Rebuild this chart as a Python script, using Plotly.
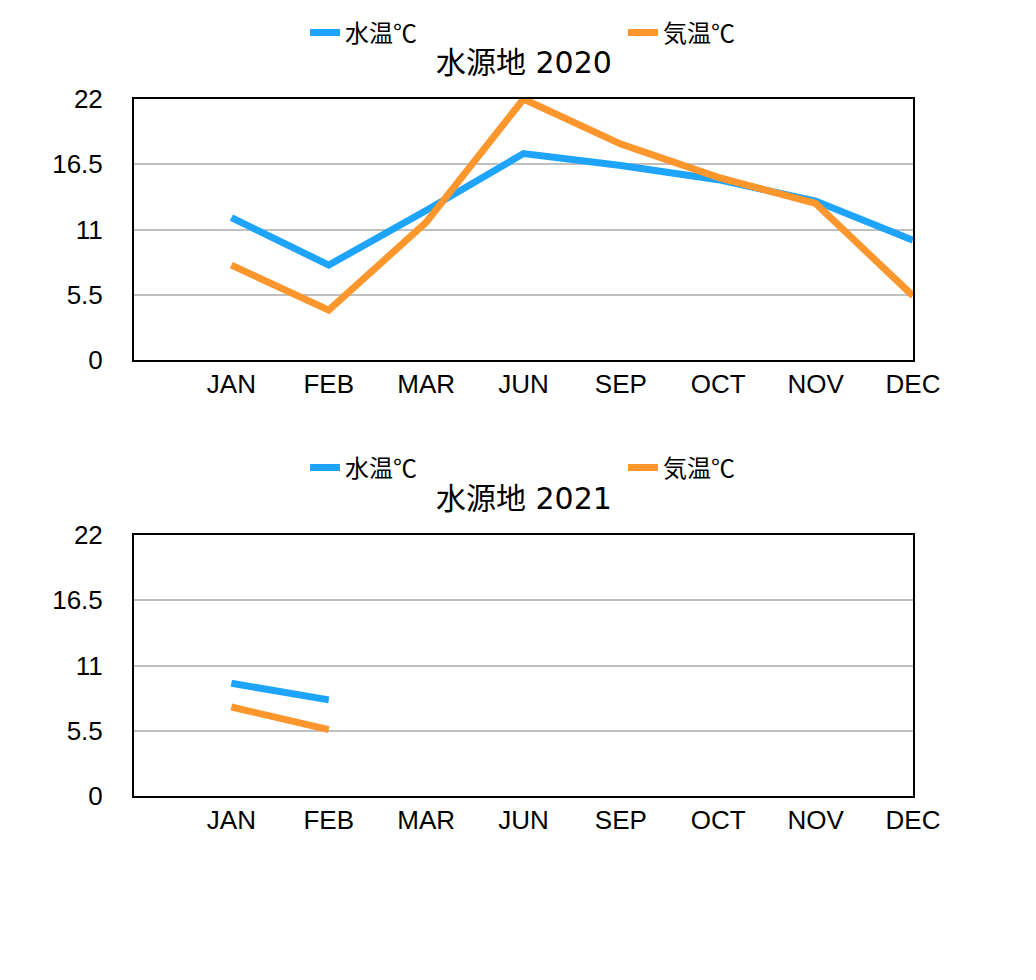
import plotly.graph_objects as go

months = ["JAN", "FEB", "MAR", "JUN", "SEP", "OCT", "NOV", "DEC"]
water_2020 = [12.0, 8.0, 12.6, 17.4, 16.4, 15.2, 13.4, 10.1]
air_2020 = [8.0, 4.2, 11.6, 22.0, 18.2, 15.4, 13.2, 5.4]
water_2021 = [9.5, 8.1, None, None, None, None, None, None]
air_2021 = [7.5, 5.6, None, None, None, None, None, None]
y_ticks = [0, 5.5, 11, 16.5, 22]
titles = ["水源地 2020", "水源地 2021"]
series_names = ["水温℃", "気温℃"]

BLUE = "#1fa4fc"
ORANGE = "#fd962c"
FONT = "Liberation Sans, Noto Sans CJK JP"
TFONT = "DejaVu Sans, Noto Sans CJK JP"
W, H = 1036, 980

xpos = list(range(1, len(months) + 1))

fig = go.Figure()

panels = [
    (water_2020, air_2020, "x", "y", "legend"),
    (water_2021, air_2021, "x2", "y2", "legend2"),
]
for water, air, xa, ya, lg in panels:
    fig.add_trace(go.Scatter(x=xpos, y=water, name=series_names[0], mode="lines",
                             line=dict(color=BLUE, width=7), xaxis=xa, yaxis=ya,
                             legend=lg, connectgaps=False))
    fig.add_trace(go.Scatter(x=xpos, y=air, name=series_names[1], mode="lines",
                             line=dict(color=ORANGE, width=7), xaxis=xa, yaxis=ya,
                             legend=lg, connectgaps=False))

def px_x(p):
    return p / W

def px_y(p):
    return 1 - p / H

xdom = [px_x(134), px_x(913)]
ydom1 = [px_y(360), px_y(99)]
ydom2 = [px_y(796), px_y(535)]

xaxis_common = dict(
    domain=xdom, range=[0, len(months)], tickmode="array", tickvals=xpos,
    ticktext=months, showgrid=False, zeroline=False, showline=True, mirror=True,
    linecolor="black", linewidth=2, ticks="",
    tickfont=dict(family=FONT, size=26, color="black"),
)
yaxis_common = dict(
    range=[0, 22], tickmode="array", tickvals=y_ticks,
    ticktext=[str(v) for v in y_ticks], showgrid=True, gridcolor="#c0c0c0",
    gridwidth=2, zeroline=False, showline=True, mirror=True, linecolor="black",
    linewidth=2, ticks="outside", ticklen=24, tickcolor="rgba(0,0,0,0)",
    tickfont=dict(family=FONT, size=26, color="black"),
)

legend_common = dict(
    orientation="h", xanchor="left", yanchor="middle", x=px_x(305),
    entrywidth=273, entrywidthmode="pixels",
    font=dict(family=FONT, size=24, color="black"), bgcolor="rgba(0,0,0,0)",
)

fig.update_layout(
    width=W, height=H,
    margin=dict(l=0, r=0, t=0, b=0, autoexpand=False),
    paper_bgcolor="white", plot_bgcolor="white",
    xaxis=dict(xaxis_common, anchor="y"),
    yaxis=dict(yaxis_common, domain=ydom1, anchor="x"),
    xaxis2=dict(xaxis_common, anchor="y2"),
    yaxis2=dict(yaxis_common, domain=ydom2, anchor="x2"),
    legend=dict(legend_common, y=px_y(33)),
    legend2=dict(legend_common, y=px_y(468)),
    showlegend=True,
    annotations=[
        dict(text=titles[0], x=(xdom[0] + xdom[1]) / 2, y=px_y(63), xref="paper",
             yref="paper", showarrow=False, xanchor="center", yanchor="middle",
             font=dict(family=TFONT, size=30, color="black")),
        dict(text=titles[1], x=(xdom[0] + xdom[1]) / 2, y=px_y(498), xref="paper",
             yref="paper", showarrow=False, xanchor="center", yanchor="middle",
             font=dict(family=TFONT, size=30, color="black")),
    ],
)

fig.write_html("out.html")
